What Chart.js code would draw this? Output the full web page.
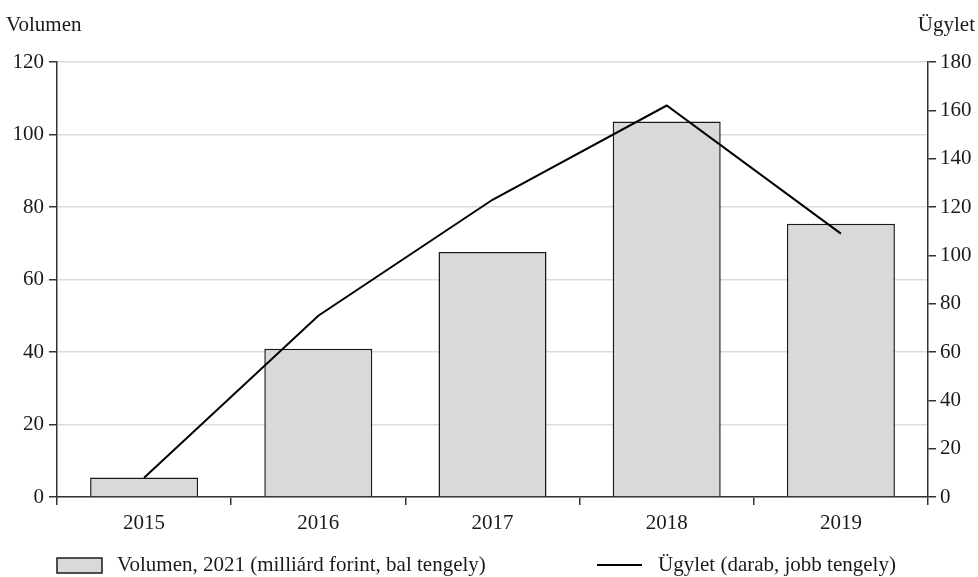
<!DOCTYPE html>
<html>
<head>
<meta charset="utf-8">
<script src="https://cdn.jsdelivr.net/npm/chart.js@4.4.1/dist/chart.umd.min.js"></script>
<style>
  html, body { margin: 0; padding: 0; background: #fff; }
  #wrap { width: 978px; height: 577px; }
</style>
</head>
<body>
<div id="wrap"><canvas id="chart"></canvas></div>
<script>
const years = ['2015', '2016', '2017', '2018', '2019'];
const volumen = [5.4, 40.9, 67.6, 103.6, 75.4];
const ugylet = [8, 75, 123, 162, 109];
const leftTicks = [0, 20, 40, 60, 80, 100, 120];
const rightTicks = [0, 20, 40, 60, 80, 100, 120, 140, 160, 180];

const FONT = { family: '"Liberation Serif", "DejaVu Serif", serif', size: 21 };
const TEXT = '#1a1a1a';
const AXIS = '#333333';

// titles above the axes and the legend row at the bottom
const extras = {
  id: 'extras',
  afterDraw(chart) {
    const ctx = chart.ctx;
    ctx.save();
    ctx.fillStyle = TEXT;
    ctx.font = FONT.size + 'px ' + FONT.family;
    ctx.textBaseline = 'middle';
    ctx.textAlign = 'left';
    ctx.fillText('Volumen', 6, 25);
    ctx.textAlign = 'right';
    ctx.fillText('Ügylet', 975, 25);

    const ly = 565;
    const bar = chart.data.datasets.find(d => d.type === 'bar');
    const line = chart.data.datasets.find(d => d.type === 'line');
    ctx.fillStyle = bar.backgroundColor;
    ctx.fillRect(57, ly - 7, 45, 15);
    ctx.strokeStyle = bar.borderColor;
    ctx.lineWidth = 1.5;
    ctx.strokeRect(57, ly - 7, 45, 15);
    ctx.fillStyle = TEXT;
    ctx.textAlign = 'left';
    ctx.fillText(bar.label, 117, ly);

    ctx.strokeStyle = line.borderColor;
    ctx.lineWidth = 2;
    ctx.beginPath();
    ctx.moveTo(597, ly);
    ctx.lineTo(642, ly);
    ctx.stroke();
    ctx.fillText(line.label, 658, ly);
    ctx.restore();
  }
};

new Chart(document.getElementById('chart'), {
  data: {
    labels: years,
    datasets: [
      {
        type: 'line',
        label: 'Ügylet (darab, jobb tengely)',
        data: ugylet,
        yAxisID: 'y2',
        borderColor: '#000000',
        borderWidth: 2,
        pointRadius: 0,
        tension: 0,
        order: 0
      },
      {
        type: 'bar',
        label: 'Volumen, 2021 (milliárd forint, bal tengely)',
        data: volumen,
        yAxisID: 'y',
        backgroundColor: '#d8d9db',
        borderColor: '#1a1a1a',
        borderWidth: 1.5,
        categoryPercentage: 1,
        barPercentage: 0.62,
        order: 1
      }
    ]
  },
  options: {
    responsive: true,
    maintainAspectRatio: false,
    animation: false,
    layout: { padding: { top: 62, bottom: 40, left: 0, right: 0 } },
    plugins: {
      legend: { display: false },
      tooltip: { enabled: false }
    },
    scales: {
      x: {
        offset: true,
        grid: {
          offset: true,
          drawOnChartArea: false,
          drawTicks: true,
          tickLength: 8,
          color: AXIS,
          lineWidth: 1.5
        },
        border: { color: AXIS, width: 1.5 },
        ticks: { color: TEXT, font: FONT, padding: 6 },
        afterFit(s) { s.height = 40; }
      },
      y: {
        position: 'left',
        min: 0,
        max: 120,
        afterBuildTicks(s) { s.ticks = leftTicks.map(v => ({ value: v })); },
        grid: {
          color: '#dcdcdc',
          lineWidth: 1.5,
          tickLength: 8,
          tickColor: AXIS
        },
        border: { color: AXIS, width: 1.5 },
        ticks: { color: TEXT, font: FONT, padding: 5 },
        afterFit(s) { s.width = 57; }
      },
      y2: {
        position: 'right',
        min: 0,
        max: 180,
        afterBuildTicks(s) { s.ticks = rightTicks.map(v => ({ value: v })); },
        grid: {
          drawOnChartArea: false,
          tickLength: 8,
          color: AXIS,
          lineWidth: 1.5
        },
        border: { color: AXIS, width: 1.5 },
        ticks: { color: TEXT, font: FONT, padding: 4 },
        afterFit(s) { s.width = 50; }
      }
    }
  },
  plugins: [extras]
});
</script>
</body>
</html>
